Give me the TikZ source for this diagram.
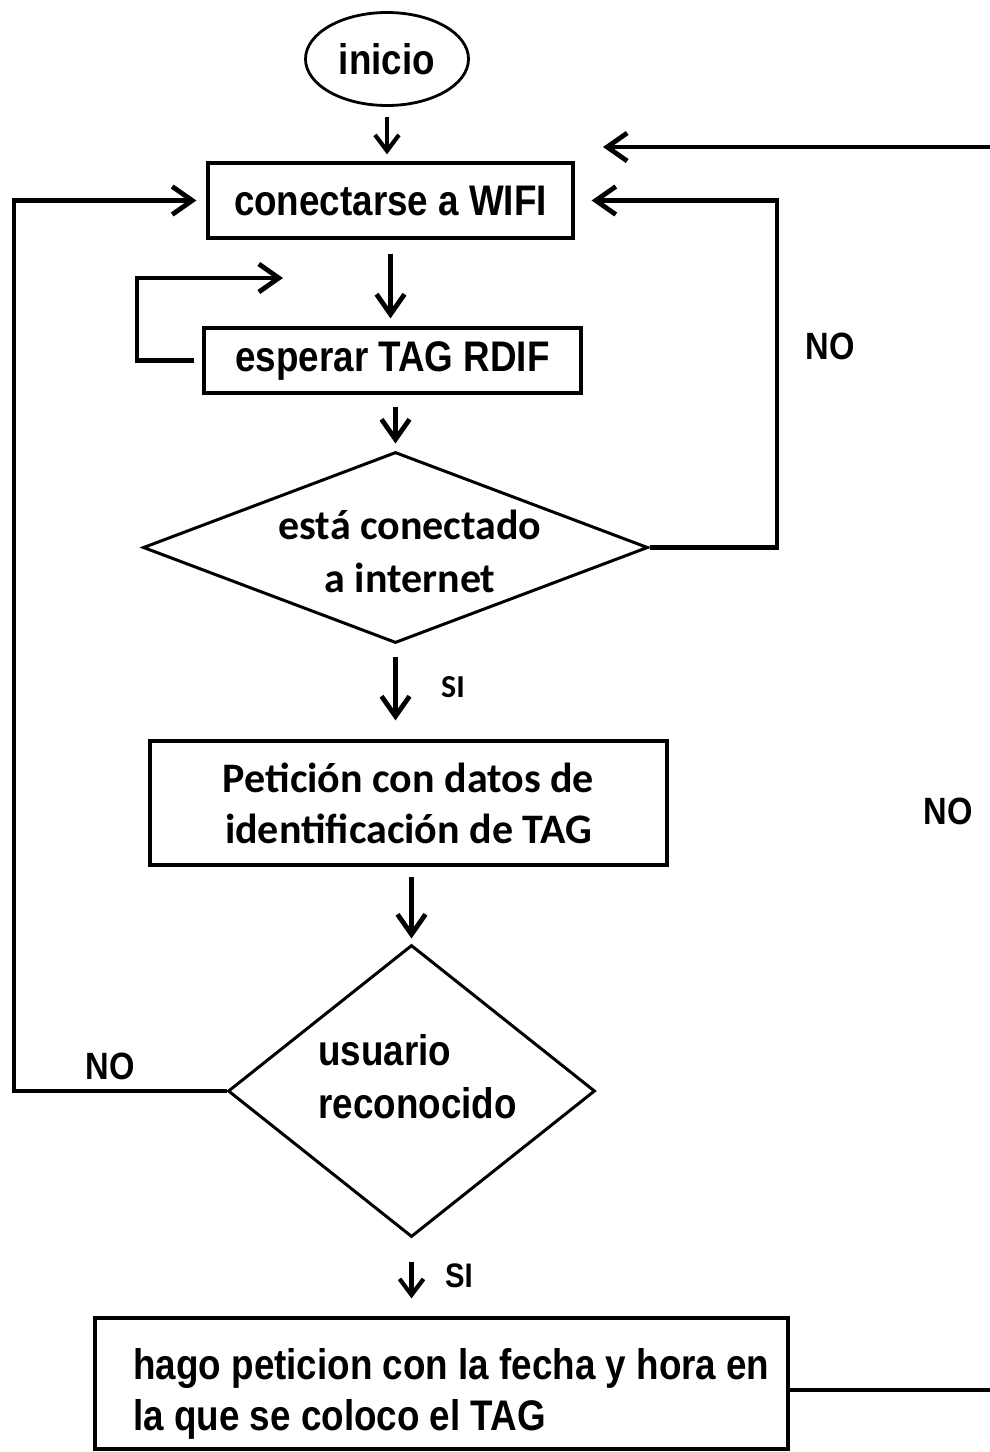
\documentclass[tikz,border=0pt]{standalone}
\usepackage{fontspec}
\usetikzlibrary{shapes.geometric,arrows.meta}
\newfontfamily\arialn[FakeStretch=0.86]{Liberation Sans}
\newfontfamily\calib{Carlito}
\begin{document}
\begin{tikzpicture}[x=0.5pt,y=-0.5pt,
  arialtxt/.style={font=\arialn\bfseries\fontsize{21.4pt}{25.5pt}\selectfont},
  calibtxt/.style={font=\calib\bfseries\fontsize{21pt}{25.5pt}\selectfont},
  boxnode/.style={draw, line width=1.6pt, rectangle, inner sep=0pt, align=center},
  decision/.style={draw, line width=1.5pt, diamond, inner sep=0pt},
  arr/.style={line width=2.4pt, -{Straight Barb[length=10pt,width=14pt]}},
  thinarr/.style={line width=2.1pt, -{Straight Barb[length=8pt,width=12pt]}},
  plainline/.style={line width=2.4pt},
  lbl/.style={inner sep=0pt},
  notxt/.style={lbl, font=\arialn\bfseries\fontsize{19pt}{19pt}\selectfont},
]
\useasboundingbox (0,0) rectangle (990,1452);

% nodes
\node[draw, ellipse, line width=1.4pt, minimum width=81.5pt, minimum height=46.5pt, inner sep=0pt, arialtxt] (ini) at (387,59) {inicio};
\node[boxnode, arialtxt, minimum width=182.5pt, minimum height=37.5pt] (wifi) at (390.5,200.5) {conectarse a WIFI};
\node[boxnode, arialtxt, minimum width=188.5pt, minimum height=32.5pt] (esp) at (392.5,360.5) {esperar TAG RDIF};
\node[decision, minimum width=252.5pt, minimum height=95.5pt] (d1) at (395.5,547.5) {};
\node[calibtxt, align=center, lbl, font=\calib\bfseries\fontsize{21pt}{26.5pt}\selectfont] (d1t) at (410,551) {está conectado\\a internet};
\node[boxnode, calibtxt, minimum width=258.5pt, minimum height=62pt] (pet) at (408.5,803) {Petición con datos de\\identificación de TAG};
\node[decision, minimum width=183.5pt, minimum height=146pt] (d2) at (411.5,1091) {};
\node[lbl, align=left, anchor=west, font=\arialn\bfseries\fontsize{21.4pt}{26.5pt}\selectfont] (d2t) at (318,1077) {usuario\\reconocido};
\node[boxnode, minimum width=346.5pt, minimum height=65.5pt] (last) at (441.5,1383.5) {};
\node[lbl, arialtxt, align=left, anchor=west] (lastt) at (133,1393.5) {hago peticion con la fecha y hora en\\la que se coloco el TAG};

% labels
\node[notxt] (no1) at (830,346) {NO};
\node[notxt] (no2) at (948,811) {NO};
\node[notxt] (no3) at (110,1066) {NO};
\node[lbl, font=\calib\bfseries\fontsize{16pt}{16pt}\selectfont] (si1) at (453,687) {SI};
\node[lbl, font=\arialn\bfseries\fontsize{17pt}{17pt}\selectfont] (si2) at (459,1276) {SI};

% coordinates
\coordinate (sl) at (137,278);
\coordinate (slt) at (283,278);
\coordinate (rn) at (777,200.5);
\coordinate (ln) at (14,200.5);
\coordinate (trs) at (990,147);
\coordinate (tre) at (603,147);
\coordinate (brs) at (990,1390);

% connectors
\draw[thinarr, shorten <=5pt, shorten >=3.5pt] (ini.south) -- (ini.south |- wifi.north);
\draw[arr, shorten <=7pt, shorten >=4pt] (wifi.south) -- (wifi.south |- esp.north);
\draw[arr, shorten <=6pt, shorten >=3.5pt] (d1.north |- esp.south) -- (d1.north);
\draw[arr, shorten <=6pt, shorten >=9.5pt] (d1.south) -- (d1.south |- pet.north);
\draw[arr, shorten <=5pt, shorten >=2.5pt] (d2.north |- pet.south) -- (d2.north);
\draw[thinarr, shorten <=11.5pt, shorten >=9pt] (d2.south) -- (d2.south |- last.north);

\draw[arr, shorten <=4pt] (esp.west) -| (sl) -- (slt);
\draw[arr, shorten >=8.5pt] (d1.east) -| (rn) -- (wifi.east);
\draw[arr, shorten >=5pt] (d2.west) -| (ln) -- (wifi.west);
\draw[arr] (trs) -- (tre);
\draw[plainline] (last.east |- brs) -- (brs);
\end{tikzpicture}
\end{document}
